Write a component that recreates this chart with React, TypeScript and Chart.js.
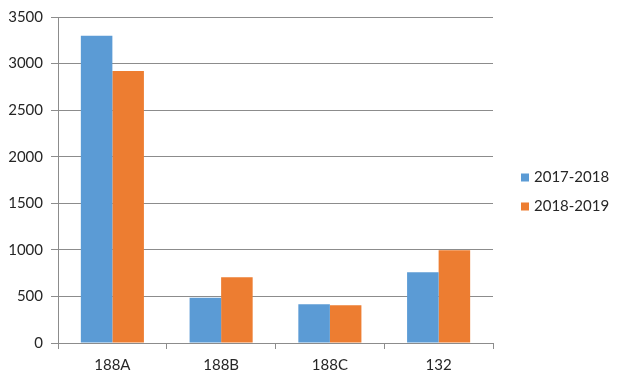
import React, { useEffect, useRef } from "react";
import { Chart, registerables } from "chart.js";

Chart.register(...registerables);

const categories = ["188A", "188B", "188C", "132"];
const series2017 = [3300, 485, 415, 760];
const series2018 = [2920, 705, 405, 995];
const seriesLabels = ["2017-2018", "2018-2019"];
const yTicks = [0, 500, 1000, 1500, 2000, 2500, 3000, 3500];

const BLUE = "#5B9BD5";
const ORANGE = "#ED7D31";
const FONT = "Lato";
const TEXT = "#262626";

const legendPlugin = {
  id: "customLegend",
  afterDraw(chart: any) {
    const { ctx, chartArea } = chart;
    ctx.save();
    ctx.font = `15px ${FONT}`;
    ctx.textBaseline = "middle";
    ctx.textAlign = "left";
    const x = chartArea.right + 28;
    const mid = (chartArea.top + chartArea.bottom) / 2;
    chart.data.datasets.forEach((ds: any, i: number) => {
      const y = mid - 2.5 + i * 29;
      ctx.fillStyle = ds.backgroundColor;
      ctx.fillRect(x, y - 4, 8, 8);
      ctx.fillStyle = TEXT;
      ctx.fillText(ds.label, x + 13, y);
    });
    ctx.restore();
  },
};

export default function App() {
  const ref = useRef<HTMLCanvasElement | null>(null);
  useEffect(() => {
    if (!ref.current) return;
    const chart = new Chart(ref.current, {
      type: "bar",
      data: {
        labels: categories,
        datasets: [
          { label: seriesLabels[0], data: series2017, backgroundColor: BLUE },
          { label: seriesLabels[1], data: series2018, backgroundColor: ORANGE },
        ],
      },
      options: {
        animation: false,
        responsive: false,
        maintainAspectRatio: false,
        layout: { padding: { left: 0, right: 128, top: 16, bottom: 0 } },
        datasets: { bar: { categoryPercentage: 0.58, barPercentage: 1.0 } },
        plugins: {
          legend: { display: false },
          tooltip: { enabled: false },
        },
        scales: {
          x: {
            grid: {
              drawOnChartArea: false,
              drawTicks: true,
              tickLength: 6,
              color: "#8c8c8c",
            },
            border: { color: "#8c8c8c", width: 1 },
            ticks: {
              color: TEXT,
              font: { family: FONT, size: 15 },
              padding: 7,
            },
            afterFit(scale: any) {
              scale.height = 38;
            },
          },
          y: {
            min: 0,
            max: 3500,
            afterBuildTicks(scale: any) {
              scale.ticks = yTicks.map((v) => ({ value: v }));
            },
            grid: {
              color: "#8c8c8c",
              tickLength: 7,
            },
            border: { color: "#8c8c8c", width: 1 },
            ticks: {
              color: TEXT,
              font: { family: FONT, size: 15 },
              padding: 8,
              callback: (v: any) => String(v),
            },
            afterFit(scale: any) {
              scale.width = 58;
            },
          },
        },
      },
      plugins: [legendPlugin],
    });
    return () => chart.destroy();
  }, []);
  return (
    <div style={{ position: "fixed", left: 0, top: 0, width: 621, height: 381, background: "#fff" }}>
      <canvas ref={ref} width={621} height={381} style={{ width: 621, height: 381 }} />
    </div>
  );
}
